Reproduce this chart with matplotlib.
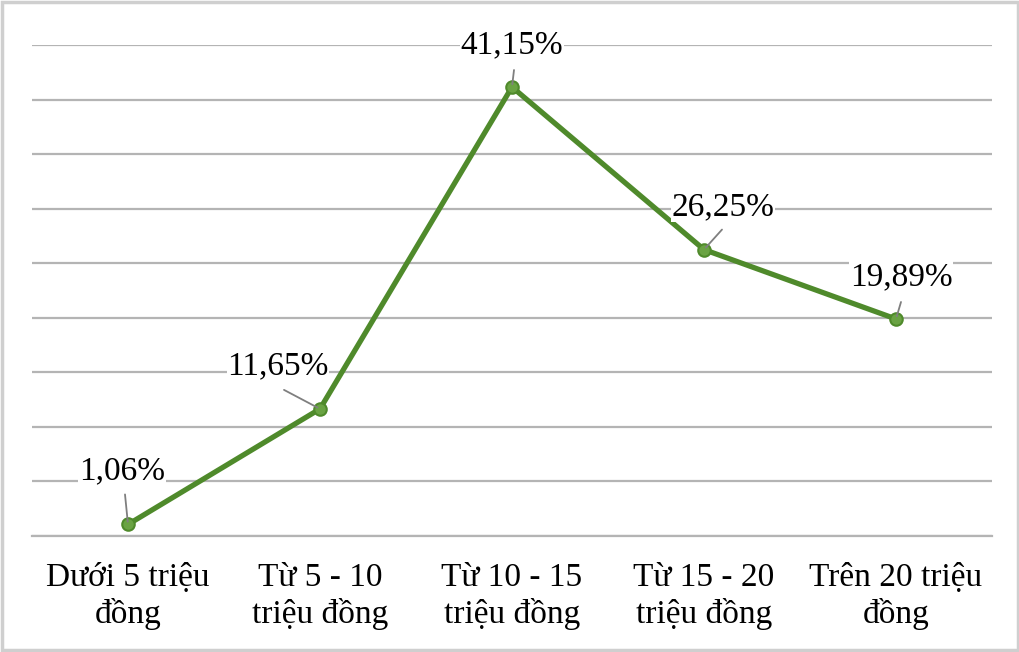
import matplotlib.pyplot as plt
from matplotlib.patches import Rectangle

# %% data

categories = ["Dưới 5 triệu\nđồng", "Từ 5 - 10\ntriệu đồng", "Từ 10 - 15\ntriệu đồng",
              "Từ 15 - 20\ntriệu đồng", "Trên 20 triệu\nđồng"]
values = [1.06, 11.65, 41.15, 26.25, 19.89]
labels = ["1,06%", "11,65%", "41,15%", "26,25%", "19,89%"]

# label centre and leader start, pixels from each point
offsets = [(-6, 53), (-42, 43), (0, 42), (19, 43), (5, 42)]
leaders = [(-3, 30), (-36, 19), (2, 17), (18, 20), (5, 17)]

plt.rcParams['font.family'] = ['Liberation Serif', 'DejaVu Serif']

# %% plot

fig = plt.figure(figsize=(10.2, 6.52), dpi=100)
ax = fig.add_axes([32 / 1020, 1 - 536 / 652, 960 / 1020, (536 - 45) / 652])

x = [i + 0.5 for i in range(len(values))]
ax.plot(x, values, color='#4f8a2b', lw=3.8, marker='o', ms=9,
        mfc='#6aa343', mec='#4f8a2b', mew=1.5, zorder=3, solid_joinstyle='round')

for xi, v, lab, off, ld in zip(x, values, labels, offsets, leaders):
    ax.annotate(lab, xy=(xi, v), xytext=off, textcoords='offset pixels',
                ha='center', va='center', fontsize=24, color='black', zorder=4,
                bbox=dict(fc='white', ec='none', pad=0.5))
    ax.annotate('', xy=(xi, v), xytext=ld, textcoords='offset pixels',
                arrowprops=dict(arrowstyle='-', color='#7f7f7f', lw=1.3,
                                shrinkA=0, shrinkB=2), zorder=5)

ax.set_xlim(0, len(values))
ax.set_ylim(0, 45)
ax.set_yticks(range(0, 46, 5))
ax.set_yticklabels([])
ax.tick_params(axis='y', length=0)
ax.set_xticks(x)
ax.set_xticklabels(categories, fontsize=24, linespacing=1.2)
ax.tick_params(axis='x', length=0, pad=19)
ax.grid(axis='y', color='#b4b4b4', lw=1.6)
ax.set_axisbelow(True)
for s in ['top', 'left', 'right']:
    ax.spines[s].set_visible(False)
ax.spines['bottom'].set_color('#b4b4b4')
ax.spines['bottom'].set_linewidth(1.6)

fig.patches.append(Rectangle((0.002, 0.003), 0.996, 0.994, transform=fig.transFigure,
                             fill=False, edgecolor='#cfcfcf', lw=2.5))

fig.savefig('out.png', dpi=100)
